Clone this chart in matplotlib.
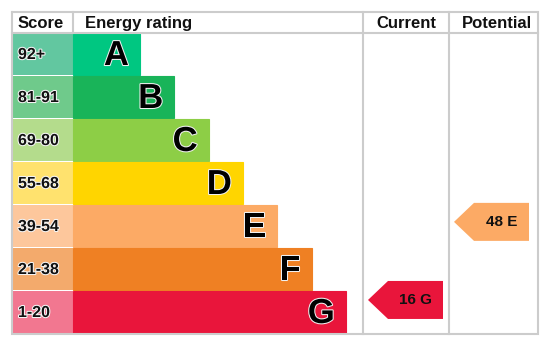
import matplotlib
matplotlib.use("Agg")
import matplotlib.pyplot as plt
from matplotlib.patches import Rectangle, Polygon
import matplotlib.patheffects as pe

# chart data
bands = ["A", "B", "C", "D", "E", "F", "G"]
score_ranges = ["92+", "81-91", "69-80", "55-68", "39-54", "21-38", "1-20"]
band_colors = ["#00c781", "#19b459", "#8dce46", "#ffd500", "#fcaa65", "#ef8023", "#e9153b"]
score_colors = ["#62c7a0", "#6fca8b", "#b4dc8c", "#ffe26e", "#fdc79c", "#f3aa6c", "#f27790"]
headers = ["Score", "Energy rating", "Current", "Potential"]
current_score, current_band = 16, "G"
potential_score, potential_band = 48, "E"

FONT = "Liberation Sans"

fig = plt.figure(figsize=(5.51, 3.46), dpi=100)
ax = fig.add_axes([0, 0, 1, 1])
ax.set_xlim(0, 551)
ax.set_ylim(346, 0)
ax.axis("off")

# layout (pixels)
left, score_w = 12, 61
bar_x = left + score_w
cur_x, pot_x, right = 363, 449, 538
top, head_h, row_h = 12, 21, 43
bar_w0, bar_step = 67, 34.3

for i, (b, rng) in enumerate(zip(bands, score_ranges)):
    y0 = top + head_h + i * row_h
    ax.add_patch(Rectangle((left, y0), score_w, row_h - 1, facecolor=score_colors[i],
                           edgecolor="none"))
    w = bar_w0 + bar_step * i
    ax.add_patch(Rectangle((bar_x, y0), w, row_h - 1, facecolor=band_colors[i],
                           edgecolor=band_colors[i], linewidth=0.8))
    ax.text(left + 6, y0 + row_h / 2, rng, fontsize=11.5, fontweight="bold", family=FONT,
            va="center", ha="left", color="#111111",
            path_effects=[pe.withStroke(linewidth=1.5, foreground="#f4f4f4")])
    ax.text(bar_x + w - 11, y0 + row_h / 2 + 1, b, fontsize=25, fontweight="bold",
            family=FONT, va="center", ha="right", color="black",
            path_effects=[pe.withStroke(linewidth=1.5, foreground="#f0f0f0")])

bottom = top + head_h + len(bands) * row_h
grid = "#cccccc"
ax.plot([left, right, right, left, left], [top, top, bottom, bottom, top],
        color=grid, lw=1.5, solid_joinstyle="miter")
ax.plot([left, right], [top + head_h, top + head_h], color=grid, lw=1.5)
for x in (cur_x, pot_x):
    ax.plot([x, x], [top, bottom], color=grid, lw=1.5)
ax.plot([bar_x, bar_x], [top, top + head_h], color=grid, lw=1.5)

hy = top + head_h / 2 + 1
ax.text(left + 6, hy, headers[0], fontsize=12, fontweight="bold", family=FONT,
        va="center", ha="left", color="#111111")
ax.text(bar_x + 12, hy, headers[1], fontsize=12, fontweight="bold", family=FONT,
        va="center", ha="left", color="#111111")
ax.text((cur_x + pot_x) / 2, hy, headers[2], fontsize=12, fontweight="bold", family=FONT,
        va="center", ha="center", color="#111111")
ax.text((pot_x + right) / 2 + 3, hy, headers[3], fontsize=12, fontweight="bold",
        family=FONT, va="center", ha="center", color="#111111")


def score_to_y(s):
    return 339 - 2.44 * s


def arrow(x0, score, band):
    c = band_colors[bands.index(band)]
    yc = score_to_y(score)
    h, tip, w = 38, 20, 75
    pts = [(x0, yc), (x0 + tip, yc - h / 2), (x0 + w, yc - h / 2),
           (x0 + w, yc + h / 2), (x0 + tip, yc + h / 2)]
    ax.add_patch(Polygon(pts, closed=True, facecolor=c, edgecolor="none"))
    ax.text(x0 + tip + (w - tip) / 2, yc, f"{score} {band}", fontsize=11,
            fontweight="bold", family=FONT, va="center", ha="center", color="#111111")


arrow(cur_x + 5, current_score, current_band)
arrow(pot_x + 5, potential_score, potential_band)

fig.savefig("out.png", dpi=100)
